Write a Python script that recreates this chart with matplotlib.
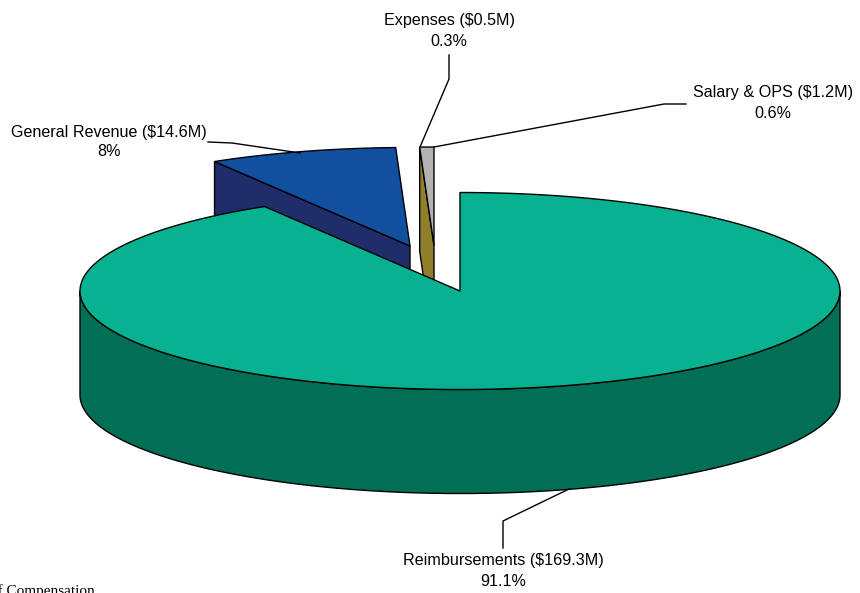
import numpy as np
import matplotlib
matplotlib.use("Agg")
import matplotlib.pyplot as plt

plt.rcParams['font.family'] = ['Liberation Sans', 'DejaVu Sans']

labels = ["Reimbursements ($169.3M)", "General Revenue ($14.6M)", "Expenses ($0.5M)", "Salary & OPS ($1.2M)"]
printed_pct = ["91.1%", "8%", "0.3%", "0.6%"]
# slice widths as they measure on the drawing, not quite the printed numbers
# (the expenses top face can't be seen at all, only its side)
drawn_pct = [91.4, 8.0, 0.0, 0.6]
top_colors = ["#08B18F", "#10509F", "#8F7F2A", "#B2B2B2"]
side_colors = ["#006F55", "#1F2D6B", "#8F7F2A", "#8A8A8A"]

# pie geometry in pixels
cx, cy = 460, 291
rx, ry = 380, 98.5
depth = 104
apex = [(460, 291), (410, 246), (434, 245.5), (434, 245.5)]

edges = np.cumsum([0] + drawn_pct) * 3.6


def arc(x0, y0, t1, t2):
    # t is clockwise from 12 o'clock
    t = np.radians(np.linspace(t1, t2, max(int(abs(t2 - t1) * 2), 2)))
    return x0 + rx * np.sin(t), y0 - ry * np.cos(t)


def top_face(ax, i):
    x0, y0 = apex[i]
    x, y = arc(x0, y0, edges[i], edges[i + 1])
    ax.fill(np.r_[x0, x], np.r_[y0, y], facecolor=top_colors[i], edgecolor='black', lw=1, joinstyle='miter')


def cut_side(ax, i, t):
    # flat side of a slice, dropped down from the radius at angle t
    x0, y0 = apex[i]
    x1, y1 = arc(x0, y0, t, t)
    x1, y1 = x1[0], y1[0]
    ax.fill([x1, x0, x0, x1], [y1, y0, y0 + depth, y1 + depth],
            facecolor=side_colors[i], edgecolor='black', lw=1)


fig = plt.figure(figsize=(8.6, 5.93), dpi=100)
ax = fig.add_axes([0, 0, 1, 1])
ax.set_xlim(0, 860)
ax.set_ylim(593, 0)
ax.axis('off')

# exploded slices go first, main slice covers them
cut_side(ax, 1, edges[1])
top_face(ax, 1)
cut_side(ax, 2, edges[3])
top_face(ax, 3)

# main slice, rim then top
x, y = arc(cx, cy, 90, 270)
ax.fill(np.r_[x, x[::-1]], np.r_[y, y[::-1] + depth], facecolor=side_colors[0], edgecolor='black', lw=1)
top_face(ax, 0)

# leader lines
ax.plot([569, 503, 503], [489, 521, 548], color='black', lw=1)
ax.plot([208, 232, 300], [142, 143, 153], color='black', lw=1)
ax.plot([449, 449, 420], [55, 79, 147], color='black', lw=1)
ax.plot([434, 664, 686], [147, 104, 104], color='black', lw=1)

fs = 11.6
ax.text(503, 560, labels[0], ha='center', va='center', fontsize=fs)
ax.text(503, 582, printed_pct[0], ha='center', va='center', fontsize=fs)
ax.text(109, 132, labels[1], ha='center', va='center', fontsize=fs)
ax.text(109, 152, printed_pct[1], ha='center', va='center', fontsize=fs)
ax.text(449, 20, labels[2], ha='center', va='center', fontsize=fs)
ax.text(449, 41, printed_pct[2], ha='center', va='center', fontsize=fs)
ax.text(773, 92, labels[3], ha='center', va='center', fontsize=fs)
ax.text(773, 114, printed_pct[3], ha='center', va='center', fontsize=fs)

# footnote runs off the page in the original
ax.text(95, 595, "of Compensation", ha='right', va='baseline', fontsize=11, family=['Liberation Serif'], clip_on=False)

fig.savefig("out.png", dpi=100)
